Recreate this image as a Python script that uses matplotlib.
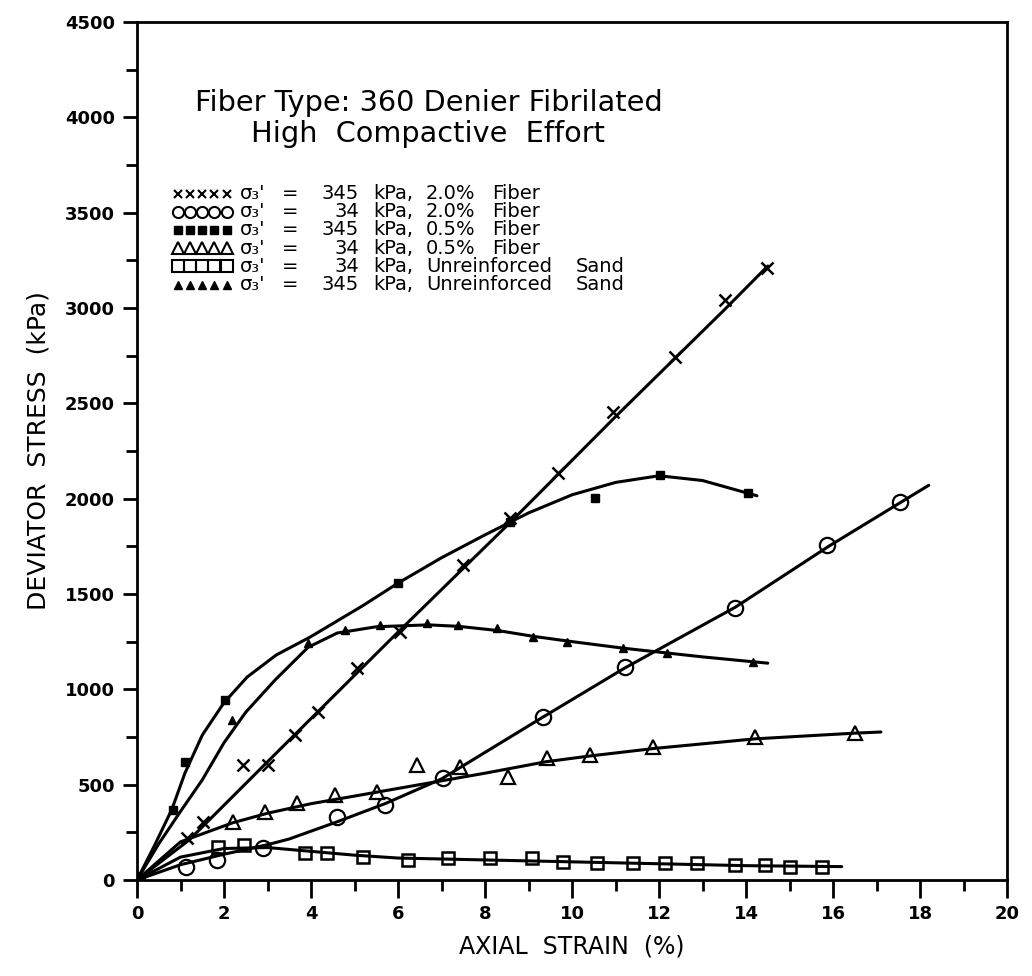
import matplotlib
matplotlib.use("Agg")
import matplotlib.pyplot as plt
from matplotlib.ticker import MultipleLocator

plt.rcParams['font.family'] = ['DejaVu Sans']

# ---- measured points (axial strain %, deviator stress kPa) ----
x_345_f20 = [0, 1.15, 1.52, 2.44, 3.0, 3.63, 4.16, 5.06, 6.05, 7.49, 8.57, 9.68, 10.94, 12.37, 13.52, 14.48]
y_345_f20 = [0, 220, 304, 603, 603, 760, 880, 1111, 1300, 1651, 1897, 2133, 2453, 2741, 3040, 3207]

x_34_f20 = [0, 1.13, 1.84, 2.9, 4.6, 5.7, 7.03, 9.33, 11.22, 13.75, 15.86, 17.54]
y_34_f20 = [0, 68, 105, 166, 330, 393, 535, 854, 1116, 1425, 1756, 1981]

x_345_f05 = [0, 0.83, 1.1, 2.02, 6.0, 8.57, 10.53, 12.02, 14.05]
y_345_f05 = [0, 367, 618, 943, 1557, 1880, 2002, 2123, 2028]

x_34_f05 = [0, 2.2, 2.94, 3.68, 4.55, 5.52, 6.44, 7.43, 8.53, 9.43, 10.41, 11.86, 14.2, 16.5]
y_34_f05 = [0, 304, 356, 403, 445, 461, 603, 592, 540, 640, 655, 697, 750, 770]

x_34_sand = [0, 1.86, 2.45, 3.86, 4.37, 5.2, 6.23, 7.15, 8.11, 9.08, 9.8, 10.57, 11.4,
             12.14, 12.87, 13.75, 14.44, 15.01, 15.75]
y_34_sand = [0, 173, 183, 141, 141, 121, 105, 115, 115, 115, 94, 89, 89, 89, 89, 79, 79, 68, 68]

x_345_sand = [0, 2.18, 3.93, 4.78, 5.59, 6.67, 7.38, 8.28, 9.1, 9.88, 11.17, 12.18, 14.16]
y_345_sand = [0, 838, 1242, 1310, 1336, 1347, 1336, 1320, 1273, 1248, 1216, 1190, 1143]

# ---- hand-drawn best-fit curves through each data set ----
cx_345_f20 = [0, 1.2, 3.0, 6.0, 8.6, 11.0, 13.5, 14.5]
cy_345_f20 = [0, 210, 620, 1300, 1880, 2430, 2990, 3220]

cx_34_f20 = [0, 1.0, 2.0, 3.0, 3.5, 4.6, 5.7, 7.0, 9.3, 11.2, 13.75, 15.9, 18.2]
cy_34_f20 = [0, 80, 135, 185, 215, 305, 400, 530, 850, 1110, 1430, 1750, 2070]

cx_345_f05 = [0, 0.4, 0.8, 1.1, 1.5, 2.0, 2.53, 3.2, 3.98, 5.2, 6.0, 7.0, 8.0, 9.0,
              10.0, 11.0, 12.0, 13.0, 14.25]
cy_345_f05 = [0, 180, 370, 560, 760, 930, 1064, 1180, 1274, 1440, 1557, 1690, 1810, 1925,
              2020, 2085, 2120, 2095, 2015]

cx_34_f05 = [0, 1.0, 2.2, 3.0, 4.0, 5.0, 6.0, 7.0, 8.0, 9.4, 10.4, 11.9, 14.2, 16.5, 17.1]
cy_34_f05 = [0, 200, 300, 350, 400, 440, 480, 520, 560, 620, 650, 690, 740, 770, 776]

cx_34_sand = [0, 1.0, 2.0, 3.0, 4.0, 5.0, 6.0, 8.0, 10.0, 12.0, 14.0, 16.2]
cy_34_sand = [0, 120, 165, 170, 150, 130, 115, 105, 95, 85, 75, 70]

cx_345_sand = [0, 0.5, 1.0, 1.5, 2.0, 2.5, 3.17, 3.93, 4.6, 5.5, 6.7, 7.4, 8.3, 9.1,
               10.0, 11.2, 12.2, 13.0, 14.5]
cy_345_sand = [0, 190, 360, 525, 720, 880, 1048, 1220, 1295, 1328, 1338, 1330, 1308, 1278,
               1250, 1215, 1190, 1170, 1137]

# legend columns: confining pressure, fiber content / material
leg_pressure = ["345", "34", "345", "34", "34", "345"]
leg_first = ["2.0%", "2.0%", "0.5%", "0.5%", "Unreinforced", "Unreinforced"]
leg_last = ["Fiber", "Fiber", "Fiber", "Fiber", "Sand", "Sand"]

styles = [
    dict(marker='x', ms=8, mew=1.8, mfc='none'),
    dict(marker='o', ms=11, mew=1.6, mfc='none'),
    dict(marker='s', ms=6, mew=1.0, mfc='black'),
    dict(marker='^', ms=10, mew=1.6, mfc='none'),
    dict(marker='s', ms=9, mew=1.8, mfc='none'),
    dict(marker='^', ms=6, mew=1.0, mfc='black'),
]
legend_ms = [6, 8, 6, 8, 8, 5.5]

data = [
    (x_345_f20, y_345_f20, cx_345_f20, cy_345_f20),
    (x_34_f20, y_34_f20, cx_34_f20, cy_34_f20),
    (x_345_f05, y_345_f05, cx_345_f05, cy_345_f05),
    (x_34_f05, y_34_f05, cx_34_f05, cy_34_f05),
    (x_34_sand, y_34_sand, cx_34_sand, cy_34_sand),
    (x_345_sand, y_345_sand, cx_345_sand, cy_345_sand),
]

fig = plt.figure(figsize=(10.32, 9.76), dpi=100)
ax = fig.add_axes([0.1328, 0.0984, 0.8430, 0.8791])

for (xs, ys, cx, cy), mk in zip(data, styles):
    ax.plot(cx, cy, color='black', lw=2.2, solid_capstyle='round', zorder=2)
    ax.plot(xs, ys, linestyle='none', color='black', mec='black', zorder=3, **mk)

ax.set_xlim(0, 20)
ax.set_ylim(0, 4500)
ax.xaxis.set_major_locator(MultipleLocator(2))
ax.xaxis.set_minor_locator(MultipleLocator(1))
ax.yaxis.set_major_locator(MultipleLocator(500))
ax.yaxis.set_minor_locator(MultipleLocator(250))
ax.tick_params(which='both', direction='out', width=2, labelsize=13)
ax.tick_params(axis='x', which='major', length=13, pad=5)
ax.tick_params(axis='x', which='minor', length=8)
ax.tick_params(axis='y', which='major', length=10, pad=6)
ax.tick_params(axis='y', which='minor', length=8)
for lab in ax.get_xticklabels() + ax.get_yticklabels():
    lab.set_fontweight('bold')
for sp in ax.spines.values():
    sp.set_linewidth(2)

ax.set_xlabel("AXIAL  STRAIN  (%)", fontsize=17, labelpad=8)
ax.set_ylabel("DEVIATOR  STRESS  (kPa)", fontsize=18, labelpad=10)

# title block
ax.text(0.335, 0.905, "Fiber Type: 360 Denier Fibrilated", transform=ax.transAxes,
        ha='center', va='center', fontsize=20.7)
ax.text(0.335, 0.869, "High  Compactive  Effort", transform=ax.transAxes,
        ha='center', va='center', fontsize=20.7)

# legend block: five symbols followed by the condition text
row0 = 0.800
dy = 0.0212
sym_x = [0.047, 0.061, 0.075, 0.089, 0.103]
fs = 14
for i, (mk, ms, p, a, b) in enumerate(zip(styles, legend_ms, leg_pressure, leg_first, leg_last)):
    yr = row0 - i * dy
    st = dict(mk)
    st['ms'] = ms
    st['mew'] = min(st['mew'], 1.5)
    ax.plot(sym_x, [yr] * len(sym_x), transform=ax.transAxes, linestyle='none',
            color='black', mec='black', clip_on=False, **st)
    ax.text(0.118, yr, "σ\u2083'", transform=ax.transAxes, ha='left', va='center',
            fontsize=fs)
    ax.text(0.167, yr, "=", transform=ax.transAxes, ha='left', va='center', fontsize=fs)
    ax.text(0.255, yr, p, transform=ax.transAxes, ha='right', va='center', fontsize=fs)
    ax.text(0.272, yr, "kPa,", transform=ax.transAxes, ha='left', va='center', fontsize=fs)
    ax.text(0.332, yr, a, transform=ax.transAxes, ha='left', va='center', fontsize=fs)
    if b == "Fiber":
        ax.text(0.408, yr, b, transform=ax.transAxes, ha='left', va='center', fontsize=fs)
    else:
        ax.text(0.561, yr, b, transform=ax.transAxes, ha='right', va='center', fontsize=fs)

fig.savefig("out.png", dpi=100)
